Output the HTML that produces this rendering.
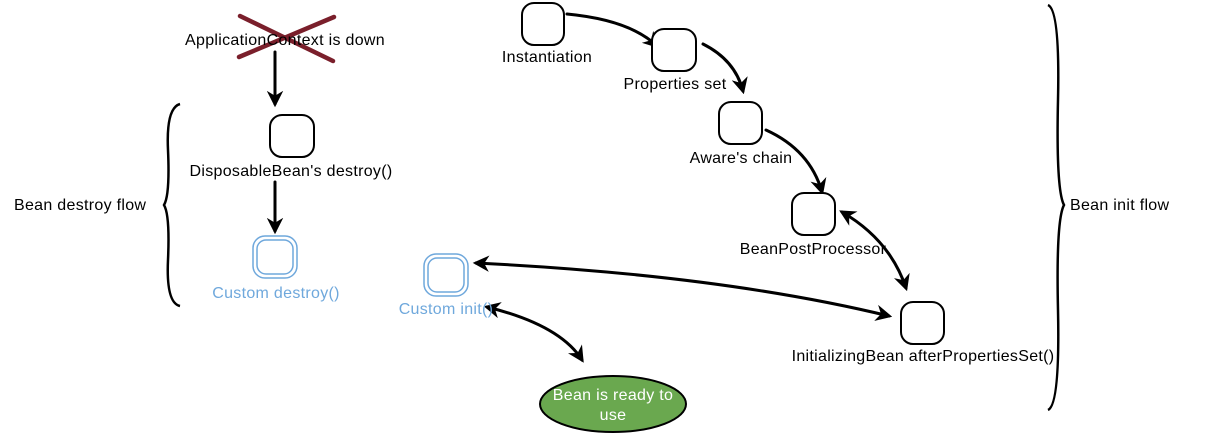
<!DOCTYPE html>
<html><head><meta charset="utf-8"><style>
html,body{margin:0;padding:0;background:#fff;width:1231px;height:433px;overflow:hidden}
text{font-family:"Liberation Sans",sans-serif;font-size:16px;letter-spacing:0.3px}
</style></head><body>
<svg width="1231" height="433" xmlns="http://www.w3.org/2000/svg">
<defs>
<marker id="a" viewBox="0 0 10 10" refX="8" refY="5" markerWidth="5.5" markerHeight="5.5" orient="auto-start-reverse"><path d="M0,0 L10,5 L0,10 L3,5 z" fill="#000"/></marker>
</defs>
<g fill="none" stroke="#000" stroke-width="3" stroke-linecap="round">
<path d="M275 52 L275 104" marker-end="url(#a)"/>
<path d="M275 182 L275 231" marker-end="url(#a)"/>
<path d="M567 14 Q630 20 657 46" marker-end="url(#a)"/>
<path d="M703 44 Q735 60 743 91" marker-end="url(#a)"/>
<path d="M766 130 Q810 150 822 192" marker-end="url(#a)"/>
<path d="M842 212 Q890 240 906 288" marker-start="url(#a)" marker-end="url(#a)"/>
<path d="M476 263 Q720 275 889 316" marker-start="url(#a)" marker-end="url(#a)"/>
<path d="M487 307 Q560 325 582 360" marker-start="url(#a)" marker-end="url(#a)"/>
</g>
<g fill="#fff" stroke="#000" stroke-width="2">
<rect x="270" y="115" width="44" height="42" rx="12"/>
<rect x="522" y="3" width="42" height="42" rx="12"/>
<rect x="652" y="29" width="44" height="42" rx="12"/>
<rect x="719" y="102" width="43" height="42" rx="12"/>
<rect x="792" y="193" width="43" height="42" rx="12"/>
<rect x="901" y="302" width="43" height="42" rx="12"/>
</g>
<g fill="none" stroke="#6fa8dc" stroke-width="1.5">
<rect x="253" y="236" width="44" height="42" rx="12"/>
<rect x="257" y="240" width="36" height="34" rx="9"/>
<rect x="424" y="254" width="44" height="42" rx="12"/>
<rect x="428" y="258" width="36" height="34" rx="9"/>
</g>
<g stroke="#7a1f2b" stroke-width="4.5" stroke-linecap="round">
<line x1="240" y1="16" x2="333" y2="61"/>
<line x1="334" y1="17" x2="239" y2="57"/>
</g>
<g fill="none" stroke="#000" stroke-width="2.5">
<path d="M180 104 Q166 108 168 150 Q170 195 164 205 Q170 215 168 260 Q166 303 180 306"/>
<path d="M1048 5 Q1060 10 1058 100 Q1056 190 1064 205 Q1056 220 1058 310 Q1060 405 1048 410"/>
</g>
<ellipse cx="613" cy="404" rx="73" ry="28" fill="#6aa84f" stroke="#000" stroke-width="2"/>
<g text-anchor="middle" fill="#000">
<text x="285" y="45">ApplicationContext is down</text>
<text x="291" y="176">DisposableBean's destroy()</text>
<text x="547" y="62">Instantiation</text>
<text x="675" y="89">Properties set</text>
<text x="741" y="163">Aware's chain</text>
<text x="813" y="254">BeanPostProcessor</text>
<text x="923" y="361">InitializingBean afterPropertiesSet()</text>
<text x="276" y="298" fill="#6fa8dc">Custom destroy()</text>
<text x="446" y="314" fill="#6fa8dc">Custom init()</text>
<text x="613" y="400" fill="#fff">Bean is ready to</text>
<text x="613" y="420" fill="#fff">use</text>
</g>
<text x="14" y="210">Bean destroy flow</text>
<text x="1070" y="210">Bean init flow</text>
</svg>
</body></html>
